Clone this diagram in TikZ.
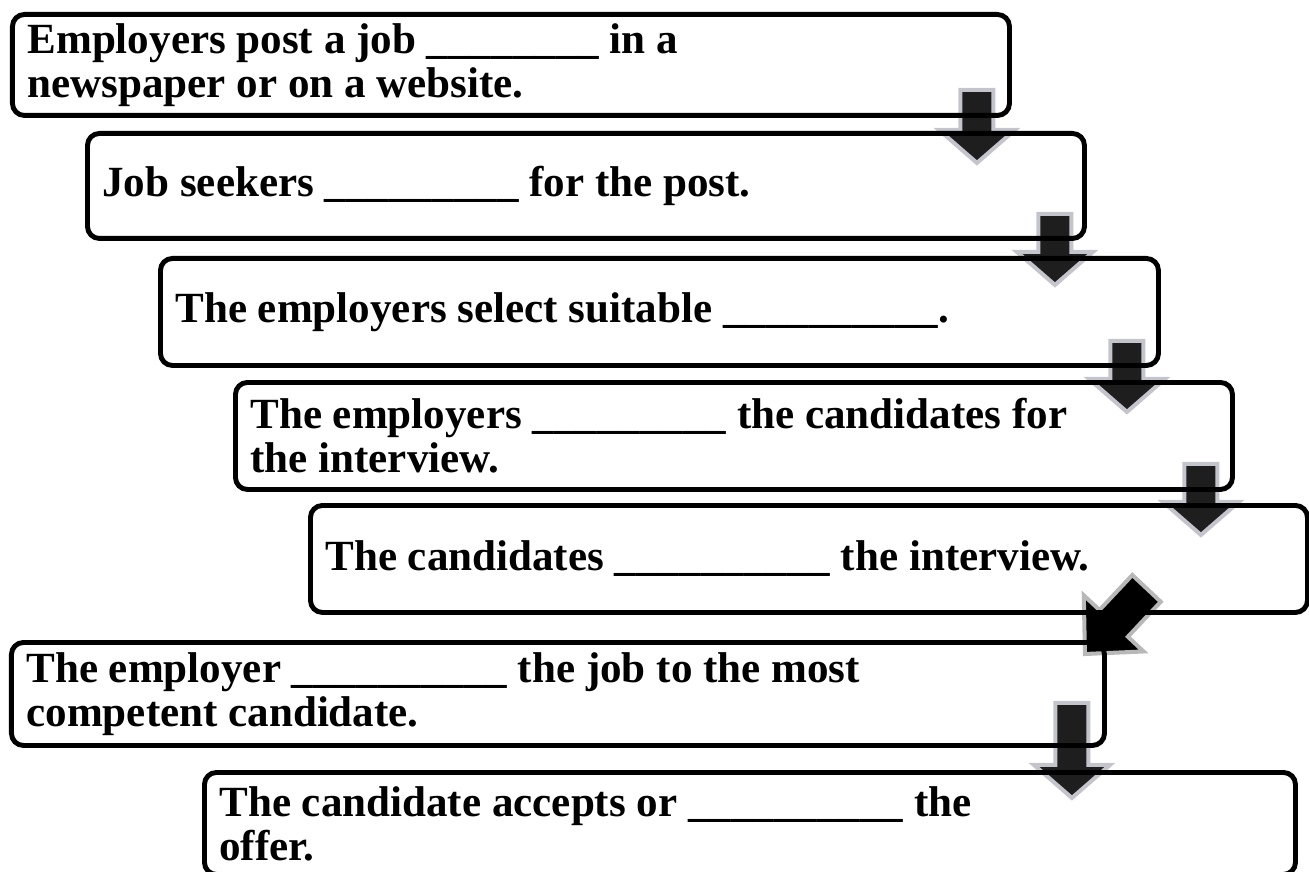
\documentclass[tikz,border=0pt]{standalone}
\usepackage{fontspec}
\setmainfont{Liberation Serif}
\usetikzlibrary{backgrounds,calc}
\definecolor{arrowfill}{HTML}{1E1E1E}
\definecolor{arrowedge}{HTML}{C4C4CC}
\definecolor{diagedge}{HTML}{B8B8B8}
\tikzset{
  stepbox/.style={draw, line width=2.8pt, rounded corners=0.24cm, anchor=north west,
    align=flush left, inner xsep=0.3cm, inner ysep=0pt,
    font=\fontsize{24.5}{25}\selectfont\bfseries},
  arrowbody/.style={draw=arrowedge, fill=arrowfill, line width=2.3pt, line join=miter}
}
% tip, rotation, length, head length, half head width, half shaft width
\newcommand{\blockarrow}[6]{%
  \draw[arrowbody, shift={#1}, rotate=#2] (0,0) -- (-#5,#4) -- (-#6,#4) -- (-#6,#3)
    -- (#6,#3) -- (#6,#4) -- (#5,#4) -- cycle;}
\begin{document}
\begin{tikzpicture}
\useasboundingbox (0,0) rectangle (26.18,-17.44);

\node[stepbox, text width=19.34cm, minimum height=2.02cm] (b1) at (0.2,-0.24)
  {\spaceskip=0pt Employers post a job \_\_\_\_\_\_\_\_ in a\\newspaper or on a website.};
\node[stepbox, text width=19.34cm, minimum height=2.10cm] (b2) at (1.7,-2.62)
  {\spaceskip=0pt Job seekers \_\_\_\_\_\_\_\_\_ for the post.};
\node[stepbox, text width=19.36cm, minimum height=2.14cm] (b3) at (3.16,-5.12)
  {\spaceskip=0pt The employers select suitable \_\_\_\_\_\_\_\_\_\_.};
\node[stepbox, text width=19.34cm, minimum height=2.14cm] (b4) at (4.66,-7.6)
  {\spaceskip=0pt The employers \_\_\_\_\_\_\_\_\_ the candidates for\\the interview.};
\node[stepbox, text width=19.34cm, minimum height=2.14cm] (b5) at (6.16,-10.06)
  {\spaceskip=0pt The candidates \_\_\_\_\_\_\_\_\_\_ the interview.};
\node[stepbox, text width=21.26cm, minimum height=2.06cm] (b6) at (0.18,-12.8)
  {\spaceskip=0pt The employer \_\_\_\_\_\_\_\_\_\_ the job to the most\\competent candidate.};
\node[stepbox, text width=21.22cm, minimum height=2.04cm] (b7) at (4.04,-15.4)
  {\spaceskip=0pt The candidate accepts or \_\_\_\_\_\_\_\_\_\_ the\\offer.};

\begin{scope}[on background layer]
\blockarrow{($(b1.south east)+(-0.7,-0.9)$)}{0}{1.46}{0.66}{0.76}{0.33}
\blockarrow{($(b2.south east)+(-0.64,-0.88)$)}{0}{1.42}{0.66}{0.76}{0.33}
\blockarrow{($(b3.south east)+(-0.68,-0.88)$)}{0}{1.42}{0.66}{0.76}{0.33}
\blockarrow{($(b4.south east)+(-0.68,-0.86)$)}{0}{1.42}{0.66}{0.76}{0.33}
\begin{scope}[arrowbody/.append style={fill=black, draw=diagedge}]
\blockarrow{($(b6.north east)+(-0.44,-0.28)$)}{-43.2}{1.8}{0.84}{0.82}{0.39}
\end{scope}
\blockarrow{($(b6.south east)+(-0.7,-1.0)$)}{0}{1.9}{0.66}{0.76}{0.33}
\end{scope}

\end{tikzpicture}
\end{document}
